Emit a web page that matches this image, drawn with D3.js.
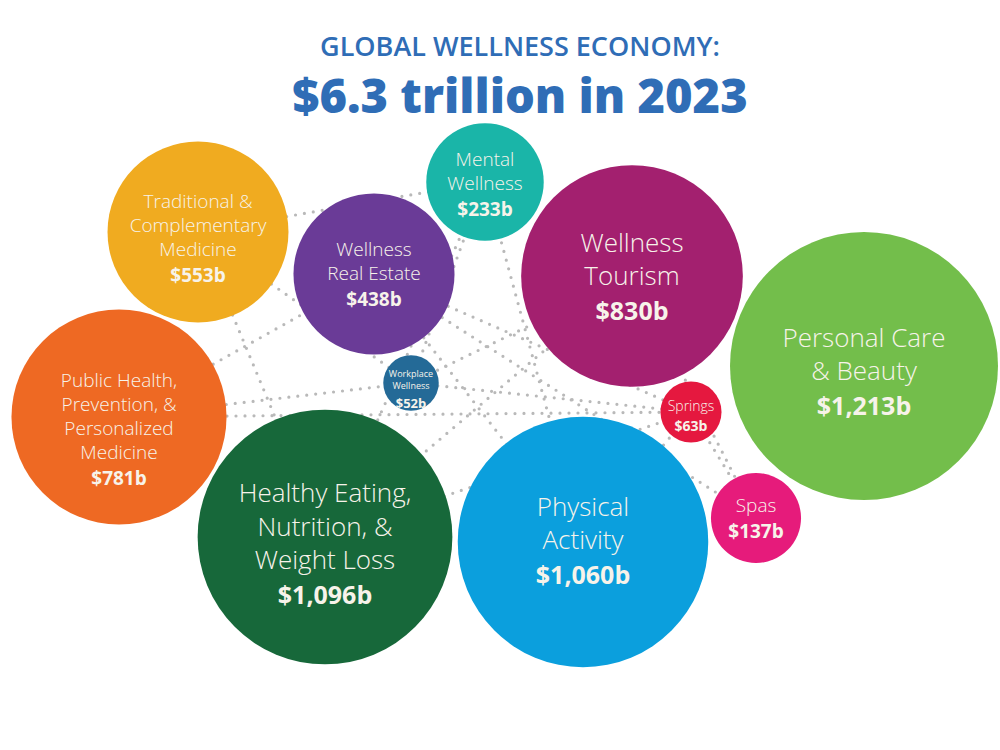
<!DOCTYPE html>
<html>
<head>
<meta charset="utf-8">
<script src="https://cdn.jsdelivr.net/npm/d3@7"></script>
<style>
  html, body { margin: 0; padding: 0; background: #fff; }
  svg { display: block; font-family: "Open Sans", sans-serif; }
</style>
</head>
<body>
<div id="chart"></div>
<script>
// data: sector names (lines split by |) and spend in $ billions, 2023
const sectors = [
  'Personal Care|& Beauty',
  'Healthy Eating,|Nutrition, &|Weight Loss',
  'Physical|Activity',
  'Wellness|Tourism',
  'Public Health,|Prevention, &|Personalized|Medicine',
  'Traditional &|Complementary|Medicine',
  'Wellness|Real Estate',
  'Mental|Wellness',
  'Spas',
  'Springs',
  'Workplace|Wellness'
];
const values = [1213, 1096, 1060, 830, 781, 553, 438, 233, 137, 63, 52];
const titleLines = ['GLOBAL WELLNESS ECONOMY:', '$6.3 trillion in 2023'];

// layout (bubble centres on a 1000 x 750 grid) and styling
const posX = [864, 325, 583, 632, 119, 198, 374, 485, 756, 691, 411];
const posY = [366, 537, 542, 276, 417, 232, 274, 182, 518, 412, 383];
const colors = ['#73be4b', '#17683a', '#0b9fdd', '#a3206f', '#ee6923', '#f0ab20',
                '#6a3b97', '#1ab5a8', '#e61b7b', '#e5183f', '#246a97'];
const nameSize  = [26, 26, 26, 26, 19, 19, 19, 19, 19, 14, 9];
const valueSize = [25, 25, 25, 25, 19, 19, 19, 19, 19, 14, 13];
const shiftY    = [5, 6, -2, 0, 12, 6, 0, 2, 0, 3, 5];

// decorative dotted network, pairs of bubble indices
const links = [[5, 7], [5, 10], [4, 10], [4, 9], [6, 2], [7, 2], [7, 1], [3, 1],
               [10, 9], [9, 8], [3, 8], [6, 9], [5, 1], [4, 6], [7, 10], [3, 10],
               [2, 9], [6, 8], [1, 9]];

const width = 1000, height = 750;
const svg = d3.select('#chart').append('svg')
    .attr('width', width)
    .attr('height', height);

const x = d3.scaleLinear().domain([0, 1000]).range([0, width]);
const y = d3.scaleLinear().domain([0, 750]).range([0, height]);
const r = d3.scaleSqrt().domain([0, d3.max(values)]).range([0, 134]);

const nodes = values.map((v, i) => ({
  name: sectors[i].split('|'),
  value: v,
  x: x(posX[i]),
  y: y(posY[i]),
  r: r(v),
  color: colors[i],
  ns: nameSize[i],
  vs: valueSize[i],
  dy: shiftY[i]
}));

// title
svg.append('text')
    .attr('x', 520).attr('y', 56)
    .attr('text-anchor', 'middle')
    .attr('fill', '#2f6db6')
    .attr('font-size', 27)
    .attr('font-weight', 600)
    .text(titleLines[0]);
svg.append('text')
    .attr('x', 520).attr('y', 113)
    .attr('text-anchor', 'middle')
    .attr('fill', '#2f6db6')
    .attr('font-size', 47)
    .attr('font-weight', 800)
    .text(titleLines[1]);

// dotted links behind bubbles
svg.append('g')
    .selectAll('line')
    .data(links)
    .join('line')
    .attr('x1', d => nodes[d[0]].x)
    .attr('y1', d => nodes[d[0]].y)
    .attr('x2', d => nodes[d[1]].x)
    .attr('y2', d => nodes[d[1]].y)
    .attr('stroke', '#b9b9b9')
    .attr('stroke-width', 3.2)
    .attr('stroke-linecap', 'round')
    .attr('stroke-dasharray', '0,9');

const bub = svg.append('g')
    .selectAll('g')
    .data(nodes)
    .join('g')
    .attr('transform', d => `translate(${d.x},${d.y})`);

bub.append('circle')
    .attr('r', d => d.r)
    .attr('fill', d => d.color);

bub.each(function(d) {
  const g = d3.select(this);
  const lh = d.ns * 1.27;
  const gap = d.vs * 1.4;
  const total = (d.name.length - 1) * lh + gap;
  let y0 = -total / 2 + d.dy;
  const t = g.append('text')
      .attr('text-anchor', 'middle')
      .attr('dominant-baseline', 'central')
      .attr('fill', '#f7f3ea');
  d.name.forEach((line, i) => {
    t.append('tspan')
        .attr('x', 0)
        .attr('y', y0 + i * lh)
        .attr('font-size', d.ns)
        .attr('font-weight', d.ns > 10 ? 300 : 400)
        .text(line);
  });
  t.append('tspan')
      .attr('x', 0)
      .attr('y', y0 + (d.name.length - 1) * lh + gap)
      .attr('font-size', d.vs)
      .attr('font-weight', 700)
      .text('$' + d3.format(',')(d.value) + 'b');
});
</script>
</body>
</html>
